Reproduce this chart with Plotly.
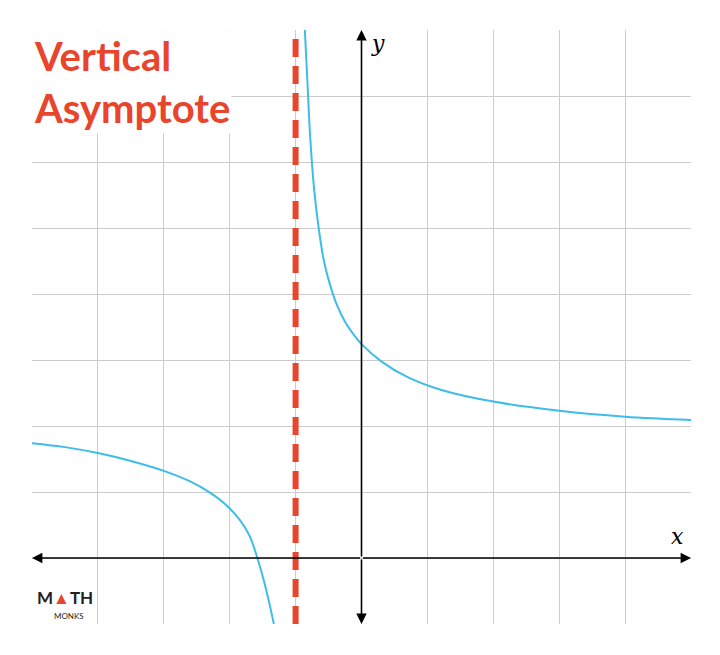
import plotly.graph_objects as go

# values
right_x = [-0.86, -0.82, -0.78, -0.72, -0.65, -0.57, -0.48, -0.38, -0.25, -0.1, 0, 0.3, 0.7, 1.2, 2, 3, 4, 5]
right_y = [8.0, 7.2, 6.4, 5.6, 5.0, 4.5, 4.15, 3.85, 3.58, 3.36, 3.24, 2.98, 2.74, 2.55, 2.37, 2.23, 2.14, 2.09]
left_x = [-5, -4.5, -4, -3.5, -3, -2.6, -2.3, -2.05, -1.85, -1.7, -1.58, -1.48, -1.4, -1.33]
left_y = [1.74, 1.68, 1.59, 1.47, 1.32, 1.16, 0.99, 0.8, 0.58, 0.34, 0.0, -0.35, -0.68, -1.0]
asymptote_x = -1

red = "#E8452C"
blue = "#3DBDE8"

fig = go.Figure()
fig.add_trace(go.Scatter(x=right_x, y=right_y, mode="lines", line=dict(color=blue, width=2, shape="spline", smoothing=1)))
fig.add_trace(go.Scatter(x=left_x, y=left_y, mode="lines", line=dict(color=blue, width=2, shape="spline", smoothing=1)))
fig.add_trace(go.Scatter(x=[asymptote_x, asymptote_x], y=[-1, 8], mode="lines",
                         line=dict(color=red, width=6, dash="18px,9px")))

# axes with arrowheads
for (x, y) in [(5, 0), (-5, 0), (0, 8), (0, -1)]:
    fig.add_annotation(x=x, y=y, ax=0, ay=0, xref="x", yref="y", axref="x", ayref="y",
                       showarrow=True, arrowhead=2, arrowsize=1.3, arrowwidth=1.6, arrowcolor="black", text="")

fig.add_annotation(x=4.8, y=0.33, text="<i>x</i>", showarrow=False,
                   font=dict(family="DejaVu Serif", size=22, color="black"))
fig.add_annotation(x=0.25, y=7.8, text="<i>y</i>", showarrow=False,
                   font=dict(family="DejaVu Serif", size=22, color="black"))

fig.add_annotation(x=0.0, y=1.0, xref="paper", yref="paper", xanchor="left", yanchor="top",
                   text="<b>Vertical<br>Asymptote</b>", align="left", showarrow=False,
                   font=dict(family="Lato", size=40, color=red),
                   bgcolor="white")
fig.add_annotation(x=-4.95, y=-0.6, xanchor="left", text="<b>M<span style='color:%s'>▲</span>TH</b>" % red,
                   showarrow=False, font=dict(family="Lato", size=17, color="#222"))
fig.add_annotation(x=-4.7, y=-0.88, xanchor="left", text="MONKS",
                   showarrow=False, font=dict(family="Lato", size=8, color="#222"))

fig.update_xaxes(range=[-5, 5], dtick=1, showgrid=True, gridcolor="#cccccc", gridwidth=1,
                 zeroline=False, showticklabels=False, showline=False)
fig.update_yaxes(range=[-1, 8], dtick=1, showgrid=True, gridcolor="#cccccc", gridwidth=1,
                 zeroline=False, showticklabels=False, showline=False)
fig.update_layout(width=720, height=655, showlegend=False, plot_bgcolor="white", paper_bgcolor="white",
                  margin=dict(l=24, r=37, t=22, b=39))

fig.write_html("out.html")
